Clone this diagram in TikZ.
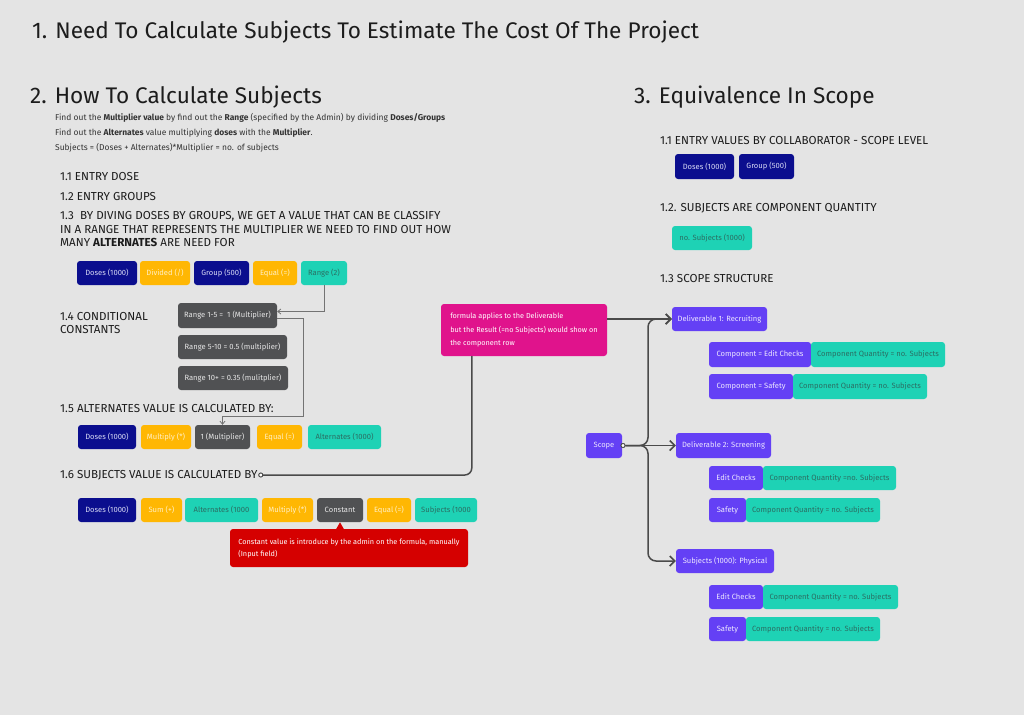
\documentclass[tikz,border=0pt]{standalone}
\usepackage{fontspec}
\setmainfont{Fira Sans}
\usetikzlibrary{arrows.meta}
\definecolor{bg}{HTML}{E4E4E4}
\definecolor{navy}{HTML}{0B0E8E}
\definecolor{navyt}{HTML}{D8DAF5}
\definecolor{yel}{HTML}{FFB703}
\definecolor{yelt}{HTML}{FFEFC4}
\definecolor{teal}{HTML}{1ED2B5}
\definecolor{tealt}{HTML}{2B6E63}
\definecolor{dgray}{HTML}{505153}
\definecolor{dgrayt}{HTML}{E6E6E6}
\definecolor{purp}{HTML}{6440F5}
\definecolor{purpt}{HTML}{ECE6FF}
\definecolor{pink}{HTML}{E0138C}
\definecolor{redc}{HTML}{D50000}
\definecolor{txtc}{HTML}{1C1C1C}
\definecolor{linec}{HTML}{4A4A4A}
\tikzset{
  box/.style={rounded corners=3pt, inner sep=0pt, font=\fontsize{7.6}{9}\selectfont},
  nv/.style={fill=navy, text=navyt},
  yl/.style={fill=yel, text=yelt},
  tl/.style={fill=teal, text=tealt},
  gy/.style={fill=dgray, text=dgrayt},
  pu/.style={fill=purp, text=purpt},
  txt/.style={anchor=west, inner sep=0pt, text=txtc},
  big/.style={txt, font=\fontsize{22.6}{26}\selectfont},
  mid/.style={txt, font=\fontsize{11.6}{13}\selectfont},
  sml/.style={txt, font=\fontsize{8.45}{10}\selectfont, text=black!80},
  thinconn/.style={draw=black!55, line width=0.8pt, -{Straight Barb[length=3pt,width=5pt]}},
  scconn/.style={draw=linec, line width=1.5pt, -{Straight Barb[length=5pt,width=10pt]}},
  dot/.style={circle, draw=linec, fill=white, line width=0.8pt, inner sep=0pt, minimum size=4pt},
}
\newcommand\bx[7]{\node[box,#2,minimum width={(#5)-(#3)},minimum height={(#6)-(#4)}] (#1) at ({((#3)+(#5))/2},{((#4)+(#6))/2}) {#7};}
\begin{document}
\begin{tikzpicture}[x=1pt,y=-1pt]
\useasboundingbox[fill=bg] (0,0) rectangle (1024,715);

% headings
\node[big] (h1) at (32,32) {1. Need To Calculate Subjects To Estimate The Cost Of The Project};
\node[big] (h2) at (30,97) {2. How To Calculate Subjects};
\node[big] (h3) at (634,97) {3. Equivalence In Scope};

\node[sml] (s1) at (55,118) {Find out the \textbf{Multiplier value} by find out the \textbf{Range} (specified by the Admin) by dividing \textbf{Doses/Groups}};
\node[sml] (s2) at (55,133) {Find out the \textbf{Alternates} value multiplying \textbf{doses} with the \textbf{Multiplier}.};
\node[sml] (s3) at (55,148) {Subjects = (Doses + Alternates)*Multiplier = no. of subjects};

\node[mid] (t11) at (60,177) {1.1 ENTRY DOSE};
\node[mid] (t12) at (60,196) {1.2 ENTRY GROUPS};
\node[mid] (t13a) at (60,216) {1.3 \ BY DIVING DOSES BY GROUPS, WE GET A VALUE THAT CAN BE CLASSIFY};
\node[mid] (t13b) at (60,229) {IN A RANGE THAT REPRESENTS THE MULTIPLIER WE NEED TO FIND OUT HOW};
\node[mid] (t13c) at (60,242) {MANY \textbf{ALTERNATES} ARE NEED FOR};

% row 1
\bx{d1}{nv}{77}{261}{137}{285}{Doses (1000)}
\bx{dv}{yl}{140}{261}{190}{285}{Divided (/)}
\bx{g1}{nv}{194}{261}{249}{285}{Group (500)}
\bx{e1}{yl}{253}{261}{297}{285}{Equal (=)}
\bx{rg}{tl}{301}{261}{347}{285}{Range (2)}

\node[mid] (t14a) at (60,316) {1.4 CONDITIONAL};
\node[mid] (t14b) at (60,329) {CONSTANTS};

\bx{r15}{gy}{178}{303}{277}{328}{Range 1-5 = \ 1 (Multiplier)}
\bx{r510}{gy}{178}{335}{287}{359}{Range 5-10 = 0.5 (multiplier)}
\bx{r10}{gy}{178}{366}{288}{390}{Range 10+ = 0.35 (mulitplier)}

\node[mid] (t15) at (60,408) {1.5 ALTERNATES VALUE IS CALCULATED BY:};

% row 2
\bx{d2}{nv}{78}{425}{136}{449}{Doses (1000)}
\bx{mu2}{yl}{141}{425}{191}{449}{Multiply (*)}
\bx{m1}{gy}{195}{425}{250}{449}{1 (Multiplier)}
\bx{e2}{yl}{257}{425}{302}{449}{Equal (=)}
\bx{al2}{tl}{308}{425}{381}{449}{Alternates (1000)}

\node[mid] (t16) at (60,475) {1.6 SUBJECTS VALUE IS CALCULATED BY};
\node[dot] (c16) at (t16.east) [xshift=3pt] {};

% row 3
\bx{d3}{nv}{78}{498}{136}{522}{Doses (1000)}
\bx{su3}{yl}{141}{498}{182}{522}{Sum (+)}
\bx{al3}{tl}{185}{498}{258}{522}{Alternates (1000}
\bx{mu3}{yl}{262}{498}{313}{522}{Multiply (*)}
\bx{cn}{gy}{317}{498}{363}{522}{Constant}
\bx{e3}{yl}{367}{498}{411}{522}{Equal (=)}
\bx{sb3}{tl}{415}{498}{477}{522}{Subjects (1000}

\node[box, fill=redc, text=white, align=left, minimum width=238pt, minimum height=38pt, font=\fontsize{7.3}{12}\selectfont] (rd) at (349,548) {Constant value is introduce by the admin on the formula, manually\\(Input field)};
\fill[redc] (cn.south |- rd.north) ++(-4,0.5) -- ++(4,-7) -- ++(4,7) -- cycle;

% pink note
\node[box, fill=pink, text=white, align=left, minimum width=166pt, minimum height=52pt, font=\fontsize{7.3}{13.5}\selectfont] (pk) at (524,330) {formula applies to the Deliverable\\but the Result (=no Subjects) would show on\\the component row};
\coordinate (pkb) at ([xshift=31pt]pk.south west);

% right side
\node[mid] (u11) at (660,141) {1.1 ENTRY VALUES BY COLLABORATOR - SCOPE LEVEL};
\bx{rd1}{nv}{675}{154}{734}{179}{Doses (1000)}
\bx{rg1}{nv}{739}{154}{794}{179}{Group (500)}
\node[mid] (u12) at (660,208) {1.2. SUBJECTS ARE COMPONENT QUANTITY};
\bx{ns}{tl}{672}{226}{752}{250}{no. Subjects (1000)}
\node[mid] (u13) at (660,278) {1.3 SCOPE STRUCTURE};

\bx{sc}{pu}{586}{433}{622}{458}{Scope}
\node[dot] (scd) at (623,445.5) {};

\bx{dl1}{pu}{672}{307}{767}{331}{Deliverable 1: Recruiting}
\bx{ce1}{pu}{709}{342}{811}{367}{Component = Edit Checks}
\bx{cq1}{tl}{811}{342}{945}{367}{Component Quantity = no. Subjects}
\bx{cs1}{pu}{709}{374}{793}{399}{Component = Safety}
\bx{cq2}{tl}{793}{374}{927}{399}{Component Quantity = no. Subjects}

\bx{dl2}{pu}{676}{433}{771}{458}{Deliverable 2: Screening}
\bx{ce2}{pu}{709}{466}{763}{490}{Edit Checks}
\bx{cq3}{tl}{763}{466}{896}{490}{Component Quantity =no. Subjects}
\bx{cs2}{pu}{709}{498}{746}{522}{Safety}
\bx{cq4}{tl}{746}{498}{880}{522}{Component Quantity = no. Subjects}

\bx{dl3}{pu}{676}{549}{774}{573}{Subjects (1000): Physical}
\bx{ce3}{pu}{709}{585}{763}{609}{Edit Checks}
\bx{cq5}{tl}{763}{585}{898}{609}{Component Quantity = no. Subjects}
\bx{cs3}{pu}{709}{617}{746}{641}{Safety}
\bx{cq6}{tl}{746}{617}{880}{641}{Component Quantity = no. Subjects}

% connectors
\draw[thinconn] (rg.south) |- ([yshift=4pt]r15.east);
\draw[thinconn] ([yshift=-3pt]r15.east) -- ++(26,0) -- ++(0,98) -| (m1.north);
\draw[draw=linec, line width=1.5pt, rounded corners=7pt] (c16) -- (pkb |- c16) -- (pkb);
\draw[scconn] (pk.east |- dl1.west) -- (dl1.west);
\draw[scconn, rounded corners=8pt] (scd) -- ++(25,0) |- (dl1.west);
\draw[scconn] (scd) -- (dl2.west);
\draw[scconn, rounded corners=8pt] (scd) -- ++(25,0) |- (dl3.west);
\node[dot] at (c16) {};
\node[dot] at (scd) {};
\end{tikzpicture}
\end{document}
